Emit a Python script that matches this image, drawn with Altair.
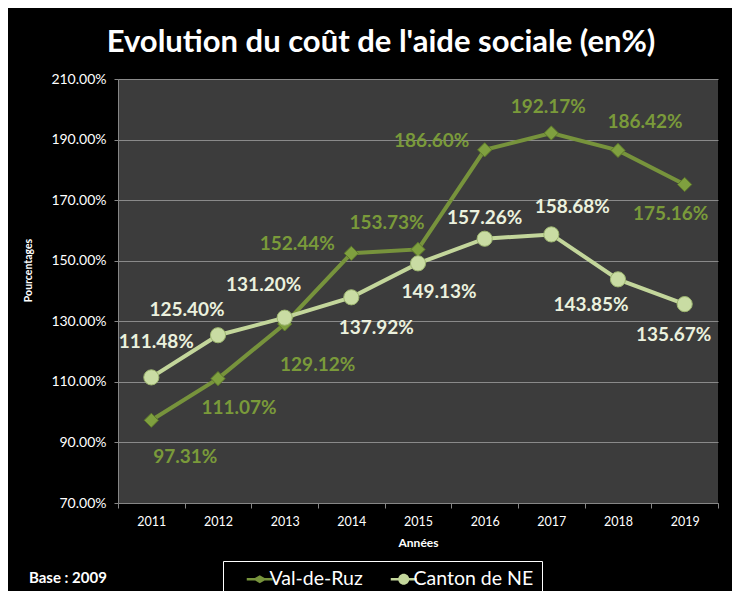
import altair as alt
import pandas as pd

# ---------------- data ----------------
years = ["2011", "2012", "2013", "2014", "2015", "2016", "2017", "2018", "2019"]
val_de_ruz = [97.31, 111.07, 129.12, 152.44, 153.73, 186.60, 192.17, 186.42, 175.16]
canton_ne = [111.48, 125.40, 131.20, 137.92, 149.13, 157.26, 158.68, 143.85, 135.67]
series_names = ["Val-de-Ruz", "Canton de NE"]
y_ticks = [70, 90, 110, 130, 150, 170, 190, 210]

rows = []
for name, vals in zip(series_names, [val_de_ruz, canton_ne]):
    for yr, v in zip(years, vals):
        rows.append({"annee": yr, "serie": name, "valeur": v})
df = pd.DataFrame(rows)

# ---------------- styling ----------------
FONT = "Lato"
line_colors = ["#77933C", "#C3D69B"]
label_colors = {"Val-de-Ruz": "#7A9A3A", "Canton de NE": "#EBF1DE"}
marker_style = {
    "Val-de-Ruz": dict(shape="diamond", size=200, fill="#7FA03F", stroke="#5E7A2A"),
    "Canton de NE": dict(shape="circle", size=230, fill="#C9DCA3", stroke="#9DB570"),
}
# label placement (dx, dy) per point, in pixels
label_offsets = {
    "Val-de-Ruz": [(34, 37), (21, 29), (33, 41), (-54, -9), (-31, -26),
                   (-53, -9), (-3, -26), (27, -28), (-14, 29)],
    "Canton de NE": [(5, -35), (-31, -25), (-21, -33), (25, 31), (21, 29),
                     (0, -21), (21, -27), (-27, 26), (-11, 31)],
}

# legend symbols: line + marker (custom paths, shifted to the right)
legend_paths = [
    "M1.2,-0.25H6.4V0.25H1.2Z M2.4,0L3.8,-0.8L5.2,0L3.8,0.8Z",
    "M1.2,-0.25H6.4V0.25H1.2Z M2.7,0A1.1,1.1 0 1,1 4.9,0A1.1,1.1 0 1,1 2.7,0Z",
]

x_enc = alt.X(
    "annee:N",
    sort=years,
    bandPosition=0.5,
    scale=alt.Scale(type="band", paddingInner=0, paddingOuter=0),
    axis=alt.Axis(
        title="Années",
        titleFont=FONT, titleFontSize=12, titleFontWeight="bold", titleColor="white",
        titleY=39, titleBaseline="middle",
        labelFont=FONT, labelFontSize=12.5, labelColor="white", labelAngle=0,
        labelPadding=7, tickSize=5, tickColor="#868686", tickBand="extent",
        domainColor="#868686", grid=False,
    ),
)
y_enc = alt.Y(
    "valeur:Q",
    scale=alt.Scale(domain=[70, 210], nice=False, zero=False),
    axis=alt.Axis(
        title="Pourcentages",
        titleFont=FONT, titleFontSize=10.5, titleFontWeight="bold", titleColor="white",
        titleX=-90, titleY=191, titleAngle=-90, titleAlign="center", titleBaseline="middle",
        values=y_ticks,
        labelExpr="format(datum.value, '.2f') + '%'",
        labelFont=FONT, labelFontSize=14, labelColor="white",
        labelPadding=8, tickSize=4, tickColor="#868686",
        domainColor="#868686", gridColor="#8a8a8a", gridWidth=1,
    ),
)

base = alt.Chart(df).encode(x=x_enc, y=y_enc)

layers = []
for name, col in zip(series_names, line_colors):
    layers.append(
        base.transform_filter(alt.datum.serie == name)
        .mark_line(color=col, strokeWidth=4)
    )
for name in series_names:
    layers.append(
        base.transform_filter(alt.datum.serie == name)
        .mark_point(filled=True, opacity=1, strokeWidth=1, **marker_style[name])
    )
for name in series_names:
    for yr, (dx, dy) in zip(years, label_offsets[name]):
        layers.append(
            base.transform_filter((alt.datum.serie == name) & (alt.datum.annee == yr))
            .transform_calculate(lbl="format(datum.valeur, '.2f') + '%'")
            .mark_text(font=FONT, fontSize=19, fontWeight="bold",
                       color=label_colors[name], dx=dx, dy=dy,
                       align="center", baseline="middle")
            .encode(text="lbl:N")
        )

# legend layer (no visible marks, legend only)
legend_layer = base.transform_filter("false").mark_point(filled=True, opacity=1).encode(
    color=alt.Color("serie:N", scale=alt.Scale(domain=series_names, range=line_colors),
                    legend=alt.Legend(
                        title=None, orient="none", legendX=105, legendY=482,
                        direction="horizontal", strokeColor="white", fillColor="black",
                        padding=8, labelColor="white", labelFont=FONT, labelFontSize=19.5,
                        labelOffset=19, symbolSize=100, symbolOpacity=1,
                        symbolStrokeWidth=0, columnPadding=12,
                    )),
    shape=alt.Shape("serie:N", scale=alt.Scale(domain=series_names, range=legend_paths)),
)
layers.append(legend_layer)

base_note = alt.Chart(pd.DataFrame({"t": ["Base : 2009"]})).mark_text(
    font=FONT, fontSize=15, fontWeight="bold", color="white", align="left", baseline="middle"
).encode(text="t:N", x=alt.value(-89), y=alt.value(499))
layers.append(base_note)

chart = alt.layer(*layers).properties(
    width=600,
    height=424,
    autosize=alt.AutoSizeParams(type="none"),
    padding={"left": 110, "top": 71, "right": 14, "bottom": 95},
    background="black",
    title=alt.TitleParams(
        "Evolution du coût de l'aide sociale (en%)",
        font=FONT, fontSize=31, fontWeight="bold", color="white",
        anchor="middle", dx=-37, offset=13,
    ),
).configure_view(fill="#3c3c3c", stroke=None)

chart.save("out.html", embed_options={"renderer": "svg", "actions": False})
